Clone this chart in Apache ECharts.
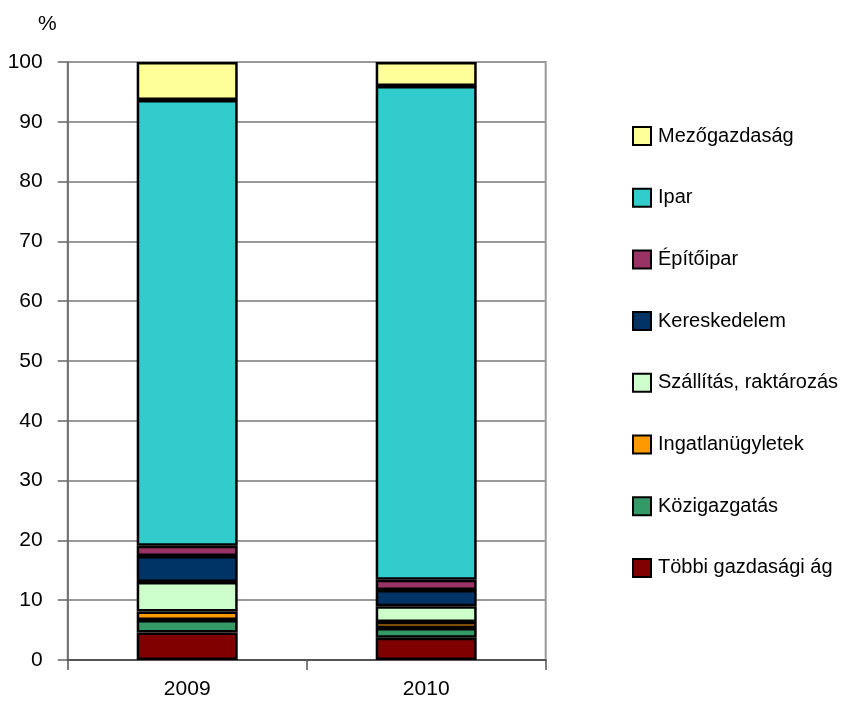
<!DOCTYPE html>
<html>
<head>
<meta charset="utf-8">
<script src="https://cdn.jsdelivr.net/npm/echarts@6/dist/echarts.min.js"></script>
<style>
html,body{margin:0;padding:0;background:#fff;}
#chart{width:843px;height:715px;}
</style>
</head>
<body>
<div id="chart"></div>
<script>
var categories = ['2009', '2010'];
var seriesNames = ['Többi gazdasági ág', 'Közigazgatás', 'Ingatlanügyletek', 'Szállítás, raktározás', 'Kereskedelem', 'Építőipar', 'Ipar', 'Mezőgazdaság'];
var tobbi = [4.6, 3.7];
var kozig = [2.1, 1.65];
var ingatlan = [1.4, 1.0];
var szallitas = [4.95, 2.65];
var kereskedelem = [4.35, 2.7];
var epitoipar = [1.7, 1.7];
var ipar = [74.55, 82.6];
var mezogazdasag = [6.35, 4.0];
var colors = ['#800000', '#339966', '#FF9900', '#CCFFCC', '#003366', '#993366', '#33CCCC', '#FFFF99'];
var yTicks = [0, 10, 20, 30, 40, 50, 60, 70, 80, 90, 100];

var values = [tobbi, kozig, ingatlan, szallitas, kereskedelem, epitoipar, ipar, mezogazdasag];
var FONT = "'Liberation Sans', Arial, sans-serif";

var chart = echarts.init(document.getElementById('chart'));
var series = seriesNames.map(function (n, i) {
  return {
    name: n,
    type: 'bar',
    stack: 'total',
    barWidth: 101,
    data: values[i],
    itemStyle: { color: colors[i], borderColor: '#000', borderWidth: 2.5 },
    emphasis: { disabled: true }
  };
});

chart.setOption({
  animation: false,
  color: colors,
  title: {
    text: '%', left: 33, top: 9,
    textStyle: { fontFamily: FONT, fontSize: 21, fontWeight: 'normal', color: '#000' }
  },
  grid: {
    left: 67.7, right: 297.3, top: 62, bottom: 55,
    show: true, borderColor: '#999', borderWidth: 2, backgroundColor: 'transparent'
  },
  legend: {
    orient: 'vertical',
    left: 627, top: 121,
    itemWidth: 18, itemHeight: 18, itemGap: 41.7,
    icon: 'rect',
    data: seriesNames.slice().reverse(),
    selectedMode: false,
    itemStyle: { borderColor: '#000', borderWidth: 2 },
    textStyle: { fontFamily: FONT, fontSize: 20, color: '#000', lineHeight: 20, padding: [0, 0, 0, 2] }
  },
  xAxis: {
    type: 'category',
    data: categories,
    axisLine: { show: true, lineStyle: { color: '#555', width: 2 } },
    axisTick: { show: true, length: 10, lineStyle: { color: '#555', width: 1.5 } },
    axisLabel: { fontFamily: FONT, fontSize: 21, color: '#000', margin: 19 },
    splitLine: { show: false }
  },
  yAxis: {
    type: 'value',
    min: 0, max: 100, interval: 10,
    axisLine: { show: true, lineStyle: { color: '#666', width: 1.5 } },
    axisTick: { show: true, length: 10, lineStyle: { color: '#666', width: 1.5 } },
    axisLabel: {
      fontFamily: FONT, fontSize: 21, color: '#000', margin: 25,
      formatter: function (v) { return yTicks.indexOf(v) >= 0 ? String(v) : ''; }
    },
    splitLine: { show: true, lineStyle: { color: '#999', width: 2 } }
  },
  series: series
});
</script>
</body>
</html>
